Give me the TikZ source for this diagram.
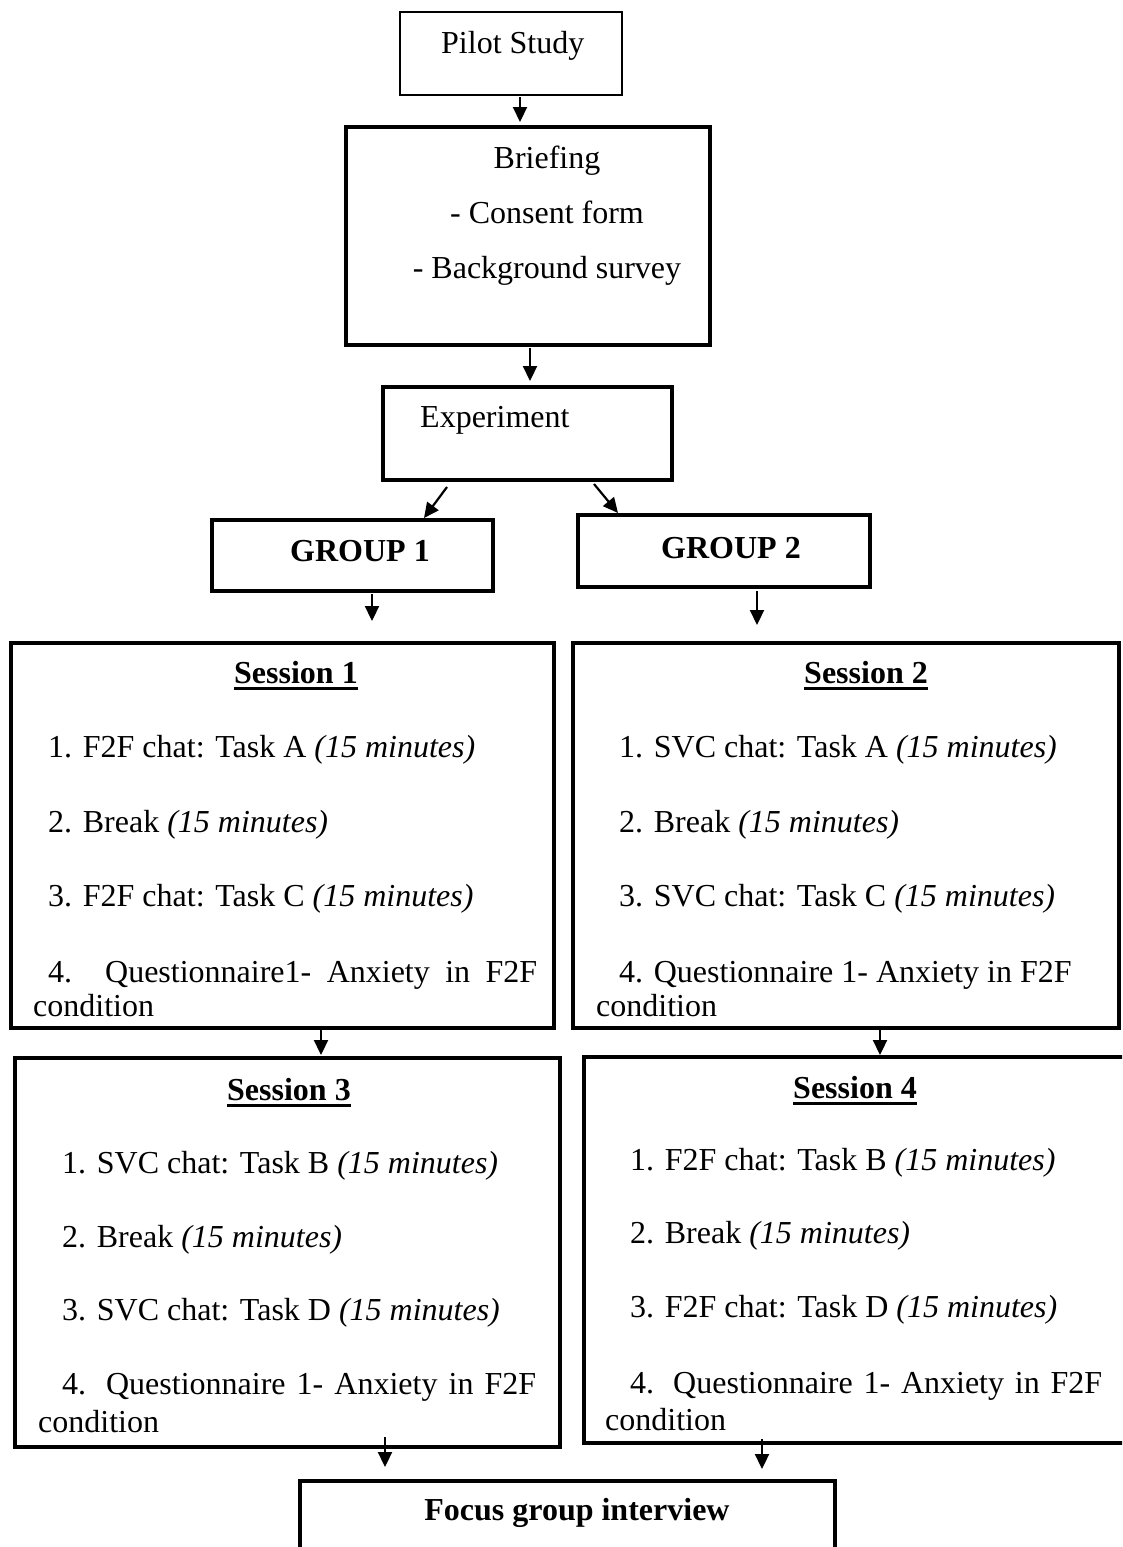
\documentclass[tikz,border=0pt]{standalone}
\usepackage{fontspec}
\setmainfont{Liberation Serif}
\usetikzlibrary{arrows.meta}
\newcommand\fsz{\fontsize{32}{36}\selectfont}
\newcommand\myul[1]{\setbox0=\hbox{#1}\rlap{\rule[-7pt]{\wd0}{3pt}}\box0}
\begin{document}
\begin{tikzpicture}[x=1pt,y=-1pt,
  box/.style={draw, line width=4pt, inner sep=0pt, outer sep=0pt},
  thinbox/.style={draw, line width=2pt, inner sep=0pt, outer sep=0pt},
  txt/.style={anchor=base west, inner sep=0pt, font=\fsz},
  ctxt/.style={anchor=base, inner sep=0pt, font=\fsz},
  hdr/.style={anchor=base, inner sep=0pt, font=\fsz\bfseries},
  arr/.style={line width=2.2pt, -{Triangle[width=14pt,length=15pt]}}]
\useasboundingbox (0,0) rectangle (1122,1547);
\clip (0,0) rectangle (1122,1547);
\fill[white] (0,0) rectangle (1122,1547);

% boxes
\node[thinbox, minimum width=222pt, minimum height=83pt] (pilot) at (511,53.5) {};
\node[box, minimum width=364pt, minimum height=218pt] (brief) at (528,236) {};
\node[box, minimum width=289pt, minimum height=93pt] (exp) at (527.5,433.5) {};
\node[box, minimum width=281pt, minimum height=71pt] (g1) at (352.5,555.5) {};
\node[box, minimum width=292pt, minimum height=72pt] (g2) at (724,551) {};
\node[box, minimum width=543pt, minimum height=385pt] (s1) at (282.5,835.5) {};
\node[box, minimum width=546pt, minimum height=385pt] (s2) at (846,835.5) {};
\node[box, minimum width=545pt, minimum height=389pt] (s3) at (287.5,1252.5) {};
\node[box, minimum width=551pt, minimum height=386pt] (s4) at (859.5,1250) {};
\node[box, minimum width=535pt, minimum height=129pt] (fg) at (567.5,1545.5) {};

% texts
\node[txt] (tpilot) at (441,53) {Pilot Study};
\node[ctxt] (tb1) at (547,168) {Briefing};
\node[ctxt] (tb2) at (547,223) {- Consent form};
\node[ctxt] (tb3) at (547,278) {- Background survey};
\node[txt] (texp) at (420,427) {Experiment};
\node[hdr] (tg1) at (360,561) {GROUP 1};
\node[hdr] (tg2) at (731,558) {GROUP 2};

\node[hdr] (h1) at (296,683) {\myul{Session 1}};
\node[txt] (s1a) at (48,757) {1. F2F chat: Task A \textit{(15 minutes)}};
\node[txt] (s1b) at (48,832) {2. Break \textit{(15 minutes)}};
\node[txt] (s1c) at (48,906) {3. F2F chat: Task C \textit{(15 minutes)}};
\node[txt] (s1d) at (48,982) {\makebox[489pt][s]{4. Questionnaire1- Anxiety in F2F}};
\node[txt] (s1e) at (33,1016) {condition};

\node[hdr] (h2) at (866,683) {\myul{Session 2}};
\node[txt] (s2a) at (619,757) {1. SVC chat: Task A \textit{(15 minutes)}};
\node[txt] (s2b) at (619,832) {2. Break \textit{(15 minutes)}};
\node[txt] (s2c) at (619,906) {3. SVC chat: Task C \textit{(15 minutes)}};
\node[txt] (s2d) at (619,982) {4. Questionnaire 1- Anxiety in F2F};
\node[txt] (s2e) at (596,1016) {condition};

\node[hdr] (h3) at (289,1100) {\myul{Session 3}};
\node[txt] (s3a) at (62,1173) {1. SVC chat: Task B \textit{(15 minutes)}};
\node[txt] (s3b) at (62,1247) {2. Break \textit{(15 minutes)}};
\node[txt] (s3c) at (62,1320) {3. SVC chat: Task D \textit{(15 minutes)}};
\node[txt] (s3d) at (62,1394) {\makebox[474pt][s]{4. Questionnaire 1- Anxiety in F2F}};
\node[txt] (s3e) at (38,1432) {condition};

\node[hdr] (h4) at (855,1098) {\myul{Session 4}};
\node[txt] (s4a) at (630,1170) {1. F2F chat: Task B \textit{(15 minutes)}};
\node[txt] (s4b) at (630,1243) {2. Break \textit{(15 minutes)}};
\node[txt] (s4c) at (630,1317) {3. F2F chat: Task D \textit{(15 minutes)}};
\node[txt] (s4d) at (630,1393) {\makebox[472pt][s]{4. Questionnaire 1- Anxiety in F2F}};
\node[txt] (s4e) at (605,1430) {condition};

\node[hdr] (tfg) at (577,1520) {Focus group interview};

% arrows
\draw[arr] ([xshift=9pt,yshift=-2pt]pilot.south) -- ([xshift=-8pt,yshift=5pt]brief.north);
\draw[arr] ([xshift=2pt,yshift=-3pt]brief.south) -- ([xshift=2.5pt,yshift=6pt]exp.north);
\draw[arr] ([xshift=-80.5pt,yshift=-7pt]exp.south) -- ([xshift=71.5pt,yshift=2pt]g1.north);
\draw[arr] ([xshift=66.5pt,yshift=-4pt]exp.south) -- ([xshift=-106pt,yshift=2pt]g2.north);
\draw[arr] ([xshift=19.5pt,yshift=-3pt]g1.south) -- ([xshift=89.5pt,yshift=22pt]s1.north);
\draw[arr] ([xshift=33pt,yshift=-4pt]g2.south) -- ([xshift=-89pt,yshift=18pt]s2.north);
\draw[arr] ([xshift=38.5pt,yshift=2pt]s1.south) -- ([xshift=33.5pt,yshift=3pt]s3.north);
\draw[arr] ([xshift=34pt,yshift=2pt]s2.south) -- ([xshift=20.5pt,yshift=2pt]s4.north);
\draw[arr] ([xshift=97.5pt,yshift=10pt]s3.south) -- ([xshift=-182.5pt,yshift=14pt]fg.north);
\draw[arr] ([xshift=-97.5pt,yshift=4pt]s4.south) -- ([xshift=194.5pt,yshift=12pt]fg.north);
\end{tikzpicture}
\end{document}
